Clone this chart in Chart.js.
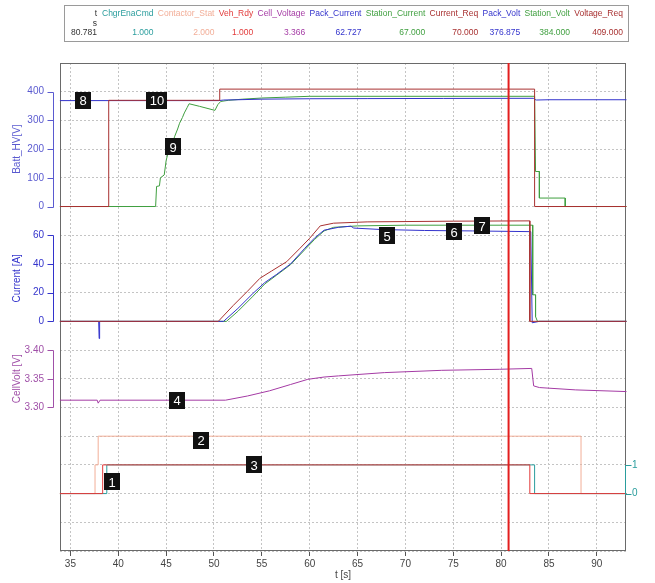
<!DOCTYPE html>
<html><head><meta charset="utf-8">
<script src="https://cdn.jsdelivr.net/npm/chart.js@4.4.1/dist/chart.umd.min.js"></script>
<style>
html,body{margin:0;padding:0;background:#fff;}
#wrap{position:relative;width:655px;height:583px;overflow:hidden;}
#c{position:absolute;left:0;top:0;}
#leg{position:absolute;left:64px;top:5px;width:563px;height:35px;border:1px solid #9a9a9a;font:8.5px 'Liberation Sans',Arial,sans-serif;}
#tcol{position:absolute;right:531px;top:3px;text-align:right;line-height:9.5px;}
#cols{position:absolute;left:37px;right:5px;top:3px;display:flex;justify-content:space-between;}
.col{text-align:right;white-space:nowrap;line-height:9.5px;}
</style></head><body>
<div id="wrap"><canvas id="c" width="655" height="583"></canvas><div id="leg"><div id="tcol"></div><div id="cols"></div></div></div>
<script>
// ---------- DATA ----------
const legendNames  = ['t','ChgrEnaCmd','Contactor_Stat','Veh_Rdy','Cell_Voltage','Pack_Current','Station_Current','Current_Req','Pack_Volt','Station_Volt','Voltage_Req'];
const legendValues = ['80.781','1.000','2.000','1.000','3.366','62.727','67.000','70.000','376.875','384.000','409.000'];
const timeUnit = 's';
const cursorT = 80.781;

const xTickValues = [35,40,45,50,55,60,65,70,75,80,85,90];
const voltTicks = [0,100,200,300,400];
const currTicks = [0,20,40,60];
const cellTicks = [3.30,3.35,3.40];
const digiTicks = [0,1];

const chgrEnaCmd    = [[33.9,0],[38.8,1],[83.5,0],[93.1,0]];
const contactorStat = [[33.9,0],[37.57,1],[37.9,2],[88.35,0],[93.1,0]];
const vehRdy        = [[33.9,0],[38.37,1],[83.0,0],[93.1,0]];
const cellVoltage   = [[33.9,3.3127],[37.8,3.3127],[37.9,3.3075],[38.1,3.3127],[51.2,3.3127],[53.5,3.320],[55.8,3.329],[58,3.340],[59.8,3.349],[61.5,3.353],[63,3.355],[67.8,3.3607],[73.8,3.3647],[79.8,3.3665],[83.2,3.368],[83.4,3.3376],[84,3.3347],[87.8,3.3306],[93.1,3.3277]];
const packCurrent   = [[33.9,0],[37.95,0],[38.0,-12],[38.05,0],[51.0,0],[52.5,9],[54,19],[55.3,27],[56.5,32.5],[58,40],[59.5,51],[60.5,58],[61.5,63.5],[63,65.5],[64.3,66.3],[64.6,65],[67.4,64],[72,63.3],[77,63],[80.8,62.7],[83.1,62.5],[83.25,-1],[84,0],[93.1,0]];
const stationCurrent= [[33.9,0],[51.3,0],[52.5,7],[54,17],[55.3,26],[56.5,32],[58,39.5],[59.5,50],[60.5,57],[61.5,63],[62.5,65.5],[65,66.5],[70,67],[83.3,67],[83.3,18.5],[83.6,18.5],[83.6,3.3],[83.8,0],[93.1,0]];
const currentReq    = [[33.9,0],[50.45,0],[52,11],[53.5,21],[54.8,30],[56,35],[57.6,41.6],[59,51],[60,57.9],[61.1,66.5],[62.5,68.4],[66,69.3],[75,69.8],[83.0,70],[83.0,0],[93.1,0]];
const packVolt      = [[33.9,369],[50.5,369],[51.0,371],[52.5,372],[55,374],[60,375.5],[66,376],[74,376.5],[80.8,376.9],[83.4,377],[83.5,373],[83.7,371],[85,372],[93.1,372]];
const stationVolt   = [[33.9,0],[43.9,0],[44.0,70],[44.3,72],[44.4,100],[44.8,110],[45.0,160],[45.3,200],[45.6,215],[45.9,245],[46.2,270],[46.4,290],[46.7,310],[46.9,326],[47.2,345],[47.4,358],[48.5,349],[50.1,335],[50.4,355],[50.7,366],[51.5,370],[53,374],[55,378],[57.5,381],[60,384],[83.5,384],[83.6,122],[84.0,122],[84.0,29.5],[86.7,29.5],[86.7,0],[93.1,0]];
const voltageReq    = [[33.9,0],[39.0,370],[50.6,409],[83.5,0],[93.1,0]];

const markerText = ['1','2','3','4','5','6','7','8','9','10'];
const markerT    = [39.3,48.6,54.2,46.1,68.1,75.1,78.0,36.3,45.7,44.0];
const markerVal  = [0.42,1.86,1.0,3.3127,59.5,62.5,66.5,370,209,370];
const markerAxis = ['yD','yD','yD','yC','yI','yI','yI','yV','yV','yV'];

// ---------- STYLE / LAYOUT ----------
const FONT = "'Liberation Sans', Arial, sans-serif";
const GRID = '#c4c4c4';
const LEFT_W = 60, RIGHT_W = 29, BOTTOM_H = 32, TOP_PAD = 63;
const C = {teal:'#2a9d9d', salmon:'#f2ae98', red:'#e23a3a', purple:'#a43aa4', blue:'#3333cc', green:'#3f9f3f', dred:'#a83030', cursor:'#e31e1e', vAxis:'#5a5ad0', cAxis:'#a050a8'};
const legendColors = ['#333',C.teal,C.salmon,C.red,C.purple,C.blue,C.green,C.dred,C.blue,C.green,C.dred];

Chart.defaults.font.family = FONT;
Chart.defaults.font.size = 10;

// legend table (HTML text)
const tcol = document.getElementById('tcol');
tcol.style.color = legendColors[0];
[legendNames[0], timeUnit, legendValues[0]].forEach(t => { const d = document.createElement('div'); d.textContent = t; tcol.appendChild(d); });
const cols = document.getElementById('cols');
legendNames.slice(1).forEach((n, k) => {
  const i = k + 1;
  const col = document.createElement('div'); col.className = 'col'; col.style.color = legendColors[i];
  const h = document.createElement('div'); h.textContent = n;
  const sp = document.createElement('div'); sp.innerHTML = '&nbsp;';
  const v = document.createElement('div'); v.textContent = legendValues[i];
  col.appendChild(h); col.appendChild(sp); col.appendChild(v);
  cols.appendChild(col);
});

const pts = a => a.map(p => ({x:p[0], y:p[1]}));
const line = (label, data, color, axis, stepped) => ({
  label, data: pts(data), borderColor: color, backgroundColor: color, yAxisID: axis,
  borderWidth: 1, pointRadius: 0, tension: 0, stepped: !!stepped, fill: false, clip: false
});

function filler(weight, stackWeight, min, max) {
  return {type:'linear', position:'left', stack:'L', weight, stackWeight, min, max, display:true,
    ticks:{display:false, stepSize:1, includeBounds:false},
    grid:{color:GRID, drawTicks:false},
    border:{display:false, dash:[2,2]},
    afterFit: s => { s.width = LEFT_W; }};
}
function mainAxis(weight, stackWeight, min, max, tickVals, color, title, fmt) {
  return {type:'linear', position:'left', stack:'L', weight, stackWeight, min, max,
    afterBuildTicks: s => { s.ticks = tickVals.map(v => ({value:v})); },
    ticks:{color, padding:16, font:{size:10}, callback: fmt},
    grid:{color:GRID, drawTicks:false},
    border:{display:false, dash:[2,2]},
    title:{display:true, text:title, color, font:{size:10}, padding:{top:11, bottom:0}},
    afterFit: s => { s.width = LEFT_W; }};
}

const framePlugin = {
  id:'frame',
  beforeDatasetsDraw(chart){
    const a = chart.chartArea, ctx = chart.ctx;
    ctx.save(); ctx.strokeStyle = '#6a6a6a'; ctx.lineWidth = 1;
    ctx.strokeRect(a.left+0.5, a.top+0.5, a.right-a.left-1, a.bottom-a.top-1);
    ctx.restore();
  }
};
const axisLinePlugin = {
  id:'axisLines',
  afterDraw(chart){
    const ctx = chart.ctx, a = chart.chartArea;
    const draw = (id, color, x, dir) => {
      const s = chart.scales[id];
      const vals = s.ticks.map(t => t.value);
      const y1 = Math.round(s.getPixelForValue(Math.max(...vals))) + 0.5;
      const y2 = Math.round(s.getPixelForValue(Math.min(...vals))) + 0.5;
      ctx.save(); ctx.strokeStyle = color; ctx.lineWidth = 1; ctx.beginPath();
      ctx.moveTo(x, y1); ctx.lineTo(x, y2);
      vals.forEach(v => { const y = Math.round(s.getPixelForValue(v)) + 0.5; ctx.moveTo(x, y); ctx.lineTo(x + dir*6, y); });
      ctx.stroke(); ctx.restore();
    };
    draw('yV', C.vAxis, a.left - 6.5, -1);
    draw('yI', C.blue, a.left - 6.5, -1);
    draw('yC', C.cAxis, a.left - 6.5, -1);
    draw('yD', C.teal, a.right - 0.5, 1);
  }
};
const markerPlugin = {
  id:'markers',
  afterDraw(chart){
    const ctx = chart.ctx;
    ctx.save();
    ctx.font = '13px ' + FONT; ctx.textAlign = 'center'; ctx.textBaseline = 'middle';
    markerText.forEach((txt,i) => {
      const x = chart.scales.x.getPixelForValue(markerT[i]);
      const y = chart.scales[markerAxis[i]].getPixelForValue(markerVal[i]);
      const w = Math.max(16, Math.round(ctx.measureText(txt).width) + 7), h = 17;
      ctx.fillStyle = '#111';
      ctx.fillRect(Math.round(x - w/2), Math.round(y - h/2), w, h);
      ctx.fillStyle = '#fff';
      ctx.fillText(txt, Math.round(x), Math.round(y) + 1);
    });
    ctx.restore();
  }
};

const datasets = [
  {label:'cursor', data:[{x:cursorT,y:-2},{x:cursorT,y:15}], borderColor:C.cursor, borderWidth:2, pointRadius:0, yAxisID:'yD', clip:false},
  line('Voltage_Req', voltageReq, C.dred, 'yV', true),
  line('Pack_Volt', packVolt, C.blue, 'yV'),
  line('Station_Volt', stationVolt, C.green, 'yV'),
  line('Current_Req', currentReq, C.dred, 'yI'),
  line('Pack_Current', packCurrent, C.blue, 'yI'),
  line('Station_Current', stationCurrent, C.green, 'yI'),
  line('Cell_Voltage', cellVoltage, C.purple, 'yC'),
  line('Veh_Rdy', vehRdy, C.red, 'yD', true),
  line('ChgrEnaCmd', chgrEnaCmd, C.teal, 'yD', true),
  line('Contactor_Stat', contactorStat, C.salmon, 'yD', true)
];

new Chart(document.getElementById('c'), {
  type:'line',
  data:{datasets},
  options:{
    responsive:false, animation:false, devicePixelRatio:1,
    layout:{padding:{top:TOP_PAD, left:0, right:0, bottom:0}},
    plugins:{legend:{display:false}, tooltip:{enabled:false}},
    scales:{
      x:{type:'linear', position:'bottom', min:33.91, max:93.05,
        afterBuildTicks: s => { s.ticks = xTickValues.map(v => ({value:v})); },
        ticks:{color:'#444', padding:2, autoSkip:false, maxRotation:0, font:{size:10}},
        grid:{color:GRID, tickColor:'#555', tickLength:5},
        border:{display:false, dash:[2,2]},
        title:{display:true, text:'t [s]', color:'#444', font:{size:10}, padding:{top:0, bottom:2}},
        afterFit: s => { s.height = BOTTOM_H; }},
      fTop: filler(7, 1, 0, 1),
      yV: mainAxis(6, 4, 0, 400, voltTicks, C.vAxis, 'Batt_HV[V]'),
      f1: filler(5, 1, 0, 1),
      yI: mainAxis(4, 3, 0, 60, currTicks, C.blue, 'Current [A]'),
      f2: filler(3, 1, 0, 1),
      yC: mainAxis(2, 2, 3.30, 3.40, cellTicks, C.cAxis, 'CellVolt [V]', v => Number(v).toFixed(2)),
      fBot: filler(1, 5, -2, 3),
      yD:{type:'linear', position:'right', min:-2, max:15,
        afterBuildTicks: s => { s.ticks = digiTicks.map(v => ({value:v})); },
        ticks:{color:C.teal, padding:6, font:{size:10}},
        grid:{drawOnChartArea:false, drawTicks:false},
        border:{display:false},
        afterFit: s => { s.width = RIGHT_W; }}
    }
  },
  plugins:[framePlugin, axisLinePlugin, markerPlugin]
});
</script>
</body></html>
